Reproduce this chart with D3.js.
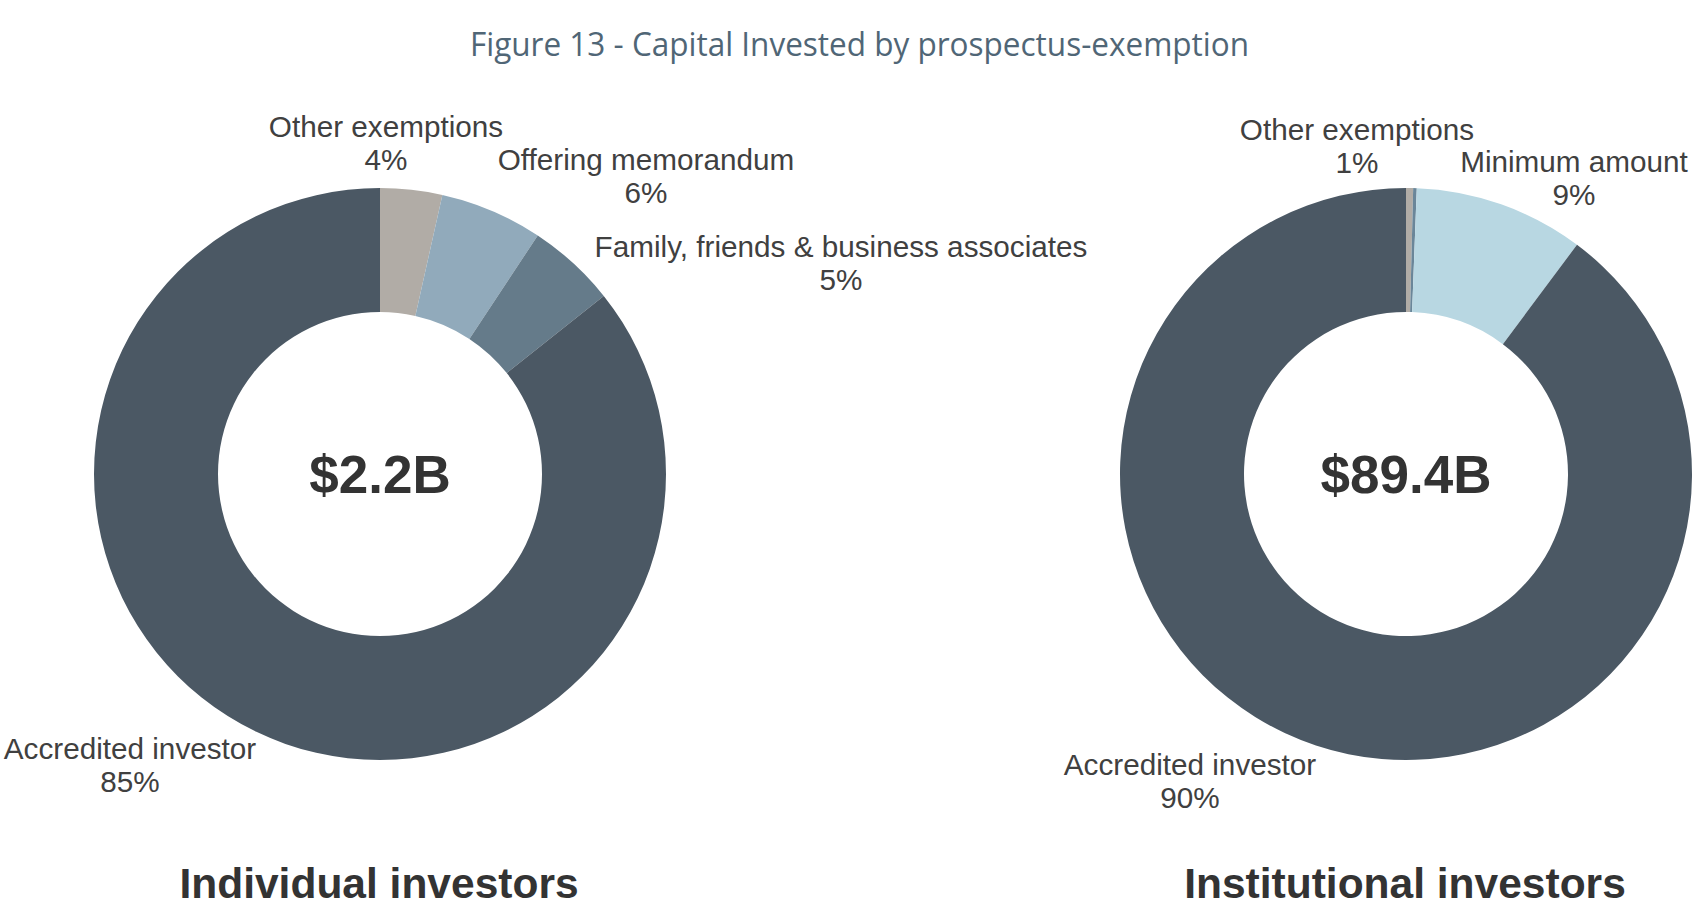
<!DOCTYPE html>
<html>
<head>
<meta charset="utf-8">
<script src="https://cdn.jsdelivr.net/npm/d3@7"></script>
<style>
  html, body { margin: 0; padding: 0; background: #ffffff; }
  svg { display: block; }
</style>
</head>
<body>
<svg id="chart" width="1702" height="908"></svg>
<script>
// ---------------- DATA ----------------
const chartTitle = "Figure 13 - Capital Invested by prospectus-exemption";
const groupTitles = ["Individual investors", "Institutional investors"];
const groupTotals = ["$2.2B", "$89.4B"];

const individualCategories = ["Other exemptions", "Offering memorandum", "Family, friends & business associates", "Accredited investor"];
const individualValues = [3.5, 5.8, 5.0, 85.7];
const individualPctLabels = ["4%", "6%", "5%", "85%"];

const institutionalCategories = ["Other exemptions", "Offering memorandum", "Minimum amount", "Accredited investor"];
const institutionalValues = [0.4, 0.2, 9.6, 89.8];
const institutionalPctLabels = ["1%", "", "9%", "90%"];

// ---------------- STYLE / LAYOUT ----------------
const colorMap = {
  "Other exemptions": "#b1aca6",
  "Offering memorandum": "#91aabb",
  "Family, friends & business associates": "#657b8a",
  "Minimum amount": "#b8d7e2",
  "Accredited investor": "#4b5864"
};
const institutionalColorOverride = { "Offering memorandum": "#6a8699" };

const outerR = 286, innerR = 162;
const lineGap = 33;
const panels = [
  {
    cx: 380, cy: 474,
    cats: individualCategories, vals: individualValues, pcts: individualPctLabels,
    total: groupTotals[0], title: groupTitles[0], colors: {},
    labelPos: [[6, -337], [266, -304], [461, -217], [-250, 285]]
  },
  {
    cx: 1406, cy: 474,
    cats: institutionalCategories, vals: institutionalValues, pcts: institutionalPctLabels,
    total: groupTotals[1], title: groupTitles[1], colors: institutionalColorOverride,
    labelPos: [[-49, -334.5], null, [168, -302], [-216, 301]]
  }
];

const svg = d3.select("#chart");

// Title
svg.append("text")
  .attr("x", 859.5).attr("y", 56)
  .attr("text-anchor", "middle")
  .attr("font-family", "'Open Sans', 'Noto Sans', sans-serif")
  .attr("font-size", 32)
  .attr("fill", "#506676")
  .attr("textLength", 779)
  .attr("lengthAdjust", "spacingAndGlyphs")
  .text(chartTitle);

const pie = d3.pie().sort(null).value(d => d.v);
const arc = d3.arc().innerRadius(innerR).outerRadius(outerR);

panels.forEach(p => {
  const data = p.cats.map((c, i) => ({ cat: c, v: p.vals[i], pct: p.pcts[i], pos: p.labelPos[i] }));
  const g = svg.append("g").attr("transform", `translate(${p.cx},${p.cy})`);

  g.selectAll("path.slice")
    .data(pie(data))
    .join("path")
    .attr("class", "slice")
    .attr("d", arc)
    .attr("fill", d => p.colors[d.data.cat] || colorMap[d.data.cat]);

  // center total
  g.append("text")
    .attr("x", 0).attr("y", 19)
    .attr("text-anchor", "middle")
    .attr("font-family", "'Liberation Sans', Arial, sans-serif")
    .attr("font-weight", "bold")
    .attr("font-size", 53)
    .attr("fill", "#333333")
    .text(p.total);

  // labels
  data.forEach(d => {
    if (!d.pos || !d.pct) return;
    const t = g.append("text")
      .attr("text-anchor", "middle")
      .attr("font-family", "'Liberation Sans', Arial, sans-serif")
      .attr("font-size", 29.7)
      .attr("fill", "#404040");
    t.append("tspan").attr("x", d.pos[0]).attr("y", d.pos[1]).text(d.cat);
    t.append("tspan").attr("x", d.pos[0]).attr("y", d.pos[1] + lineGap).text(d.pct);
  });

  // group title
  svg.append("text")
    .attr("x", p.cx - 1).attr("y", 898)
    .attr("text-anchor", "middle")
    .attr("font-family", "'Liberation Sans', Arial, sans-serif")
    .attr("font-weight", "bold")
    .attr("font-size", 42.5)
    .attr("fill", "#333333")
    .text(p.title);
});
</script>
</body>
</html>
